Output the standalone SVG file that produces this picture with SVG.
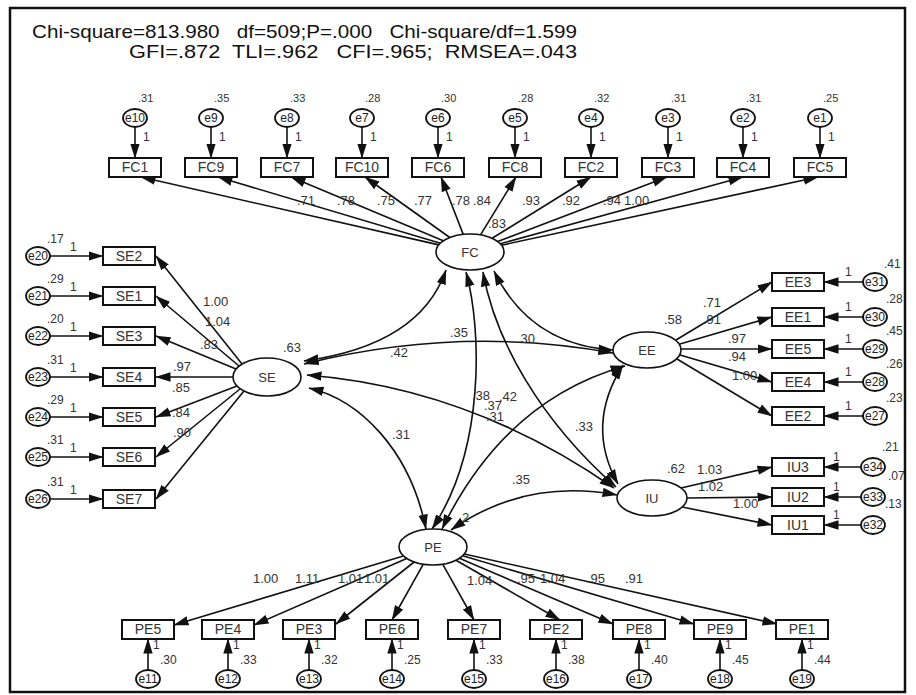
<svg xmlns="http://www.w3.org/2000/svg" width="916" height="695" viewBox="0 0 916 695">
<defs>
<style>
text{font-family:"Liberation Sans",Arial,sans-serif}
.title{font-size:19px;fill:#111}
.lb{font-size:14px;fill:#333;text-anchor:middle}
.lt{font-size:13px;fill:#333;text-anchor:middle}
.num{font-size:13px;fill:#333}
.one{font-size:12px;fill:#333}
.var{font-size:11px;fill:#333}
.et{font-size:12px;fill:#222;text-anchor:middle}
.box{fill:#fff;stroke:#111;stroke-width:2}
.lat{fill:#fff;stroke:#111;stroke-width:1.6}
.err{fill:#fff;stroke:#111;stroke-width:1.8}
.ln{fill:none;stroke:#111;stroke-width:1.6;marker-end:url(#a)}
.cv{fill:none;stroke:#111;stroke-width:1.6;marker-start:url(#a);marker-end:url(#a)}
</style>
<marker id="a" viewBox="0 0 15 10" refX="14.5" refY="5" markerWidth="15" markerHeight="10" markerUnits="userSpaceOnUse" orient="auto-start-reverse"><path d="M0,0.3 L15,5 L0,9.7 Z" fill="#111"/></marker>
</defs>
<rect x="0" y="0" width="916" height="695" fill="#fff"/>
<rect x="10" y="8" width="895" height="684" fill="none" stroke="#111" stroke-width="2.5"/>
<text class="title" x="32" y="38" textLength="545" lengthAdjust="spacingAndGlyphs" style="white-space:pre">Chi-square=813.980   df=509;P=.000   Chi-square/df=1.599</text>
<text class="title" x="129" y="58" textLength="448" lengthAdjust="spacingAndGlyphs" style="white-space:pre">GFI=.872  TLI=.962   CFI=.965;  RMSEA=.043</text>

<g id="connectors">
<path class="ln" d="M135,127 V158"/><path class="ln" d="M211,127 V158"/><path class="ln" d="M287,127 V158"/><path class="ln" d="M362,127 V158"/><path class="ln" d="M438,127 V158"/><path class="ln" d="M515,127 V158"/><path class="ln" d="M591,127 V158"/><path class="ln" d="M668,127 V158"/><path class="ln" d="M743,127 V158"/><path class="ln" d="M820,127 V158"/>
<path class="ln" d="M438.8,244.9 L141,177"/><path class="ln" d="M440.4,243.2 L218,177"/><path class="ln" d="M443.3,240.8 L291,177"/><path class="ln" d="M449.8,237.5 L365,177"/><path class="ln" d="M463.2,234.4 L441,177"/><path class="ln" d="M480.5,234.9 L516,177"/><path class="ln" d="M492.1,238.3 L591,177"/><path class="ln" d="M497.6,241.5 L667,177"/><path class="ln" d="M500.2,243.7 L743,177"/><path class="ln" d="M501.5,245.2 L818,177"/>
<path class="ln" d="M50,256 H103"/><path class="ln" d="M50,296 H103"/><path class="ln" d="M50,336 H103"/><path class="ln" d="M50,377 H103"/><path class="ln" d="M50,417 H103"/><path class="ln" d="M50,457 H103"/><path class="ln" d="M50,499 H103"/>
<path class="ln" d="M242,364 L156,256"/><path class="ln" d="M239,366 L156,296"/><path class="ln" d="M236,369 L156,336"/><path class="ln" d="M233,377 L156,377"/><path class="ln" d="M237,386 L156,417"/><path class="ln" d="M240,389 L156,457"/><path class="ln" d="M244,391 L156,499"/>
<path class="ln" d="M863,282 H824"/><path class="ln" d="M863,317 H824"/><path class="ln" d="M863,349 H824"/><path class="ln" d="M863,382 H824"/><path class="ln" d="M863,416 H824"/>
<path class="ln" d="M676,340 L772,282"/><path class="ln" d="M680,344 L772,317"/><path class="ln" d="M681,349 L772,349"/><path class="ln" d="M680,355 L772,382"/><path class="ln" d="M677,359 L772,416"/>
<path class="ln" d="M861,467 H824"/><path class="ln" d="M861,497 H824"/><path class="ln" d="M861,525 H824"/>
<path class="ln" d="M681,488 L772,467"/><path class="ln" d="M687,498 L772,497"/><path class="ln" d="M682,507 L772,525"/>
<path class="ln" d="M403.4,555.9 L174,625"/><path class="ln" d="M406.7,558.4 L254,625"/><path class="ln" d="M414.1,562 L336,624"/><path class="ln" d="M423.3,564.2 L392,620"/><path class="ln" d="M442.7,564.2 L474,620"/><path class="ln" d="M456,560.2 L560,620"/><path class="ln" d="M459.4,558.3 L613,624"/><path class="ln" d="M462.7,555.8 L694,624"/><path class="ln" d="M464.3,554 L777,624"/>
<path class="ln" d="M148,670 V639"/><path class="ln" d="M228,670 V639"/><path class="ln" d="M309,670 V639"/><path class="ln" d="M392,670 V639"/><path class="ln" d="M474,670 V639"/><path class="ln" d="M556,670 V639"/><path class="ln" d="M639,670 V639"/><path class="ln" d="M720,670 V639"/><path class="ln" d="M802,670 V639"/>
<path class="cv" d="M446,270 Q420,345 304,361"/>
<path class="cv" d="M466,272 C482,330 485,450 432,529"/>
<path class="cv" d="M483,272 C495,340 540,420 616,487"/>
<path class="cv" d="M494,271 Q530,345 613,350"/>
<path class="cv" d="M304,364 Q460,325 613,353"/>
<path class="cv" d="M307,375 Q470,388 614,488"/>
<path class="cv" d="M309,388 C360,400 410,450 426,529"/>
<path class="cv" d="M623,365 Q585,425 618,484"/>
<path class="cv" d="M442,529 Q505,400 625,366"/>
<path class="cv" d="M617,495 Q525,478 451,530"/>
<g class="num">
<text x="297" y="205">.71</text><text x="337" y="205">.78</text><text x="377" y="205">.75</text><text x="414" y="205">.77</text><text x="452" y="205">.78</text><text x="473" y="205">.84</text><text x="522" y="205">.93</text><text x="562" y="205">.92</text><text x="603" y="205">.94</text><text x="624" y="205">1.00</text>
<text x="488" y="228">.83</text>
<text x="203" y="306">1.00</text><text x="205" y="326">1.04</text><text x="200" y="349">.83</text><text x="173" y="371">.97</text><text x="172" y="392">.85</text><text x="172" y="417">.84</text><text x="173" y="437">.90</text>
<text x="283" y="352">.63</text>
<text x="450" y="337">.35</text><text x="517" y="343">.30</text><text x="390" y="357">.42</text>
<text x="472" y="400">.38</text><text x="499" y="401">.42</text><text x="484" y="410">.37</text><text x="486" y="421">.31</text>
<text x="392" y="439">.31</text><text x="575" y="431">.33</text><text x="512" y="484">.35</text>
<text x="664" y="324">.58</text>
<text x="703" y="307">.71</text><text x="703" y="324">.91</text><text x="728" y="343">.97</text><text x="728" y="361">.94</text><text x="732" y="380">1.00</text>
<text x="667" y="473">.62</text><text x="697" y="474">1.03</text><text x="698" y="491">1.02</text><text x="733" y="508">1.00</text>
<text x="462" y="522">2</text>
<text x="253" y="583">1.00</text><text x="295" y="583">1.11</text><text x="338" y="583">1.01</text><text x="364" y="583">1.01</text><text x="467" y="585">1.04</text><text x="517" y="583">.95</text><text x="540" y="583">1.04</text><text x="587" y="583">.95</text><text x="625" y="583">.91</text>
</g>
<g class="one">
<text x="143" y="141">1</text><text x="219" y="141">1</text><text x="295" y="141">1</text><text x="370" y="141">1</text><text x="446" y="141">1</text><text x="523" y="141">1</text><text x="599" y="141">1</text><text x="676" y="141">1</text><text x="751" y="141">1</text><text x="828" y="141">1</text>
<text x="70" y="251">1</text><text x="70" y="291">1</text><text x="70" y="331">1</text><text x="70" y="372">1</text><text x="70" y="412">1</text><text x="70" y="452">1</text><text x="70" y="494">1</text>
<text x="845" y="276">1</text><text x="845" y="311">1</text><text x="845" y="343">1</text><text x="845" y="376">1</text><text x="845" y="410">1</text>
<text x="833" y="461">1</text><text x="833" y="491">1</text><text x="833" y="519">1</text>
<text x="153" y="649">1</text><text x="233" y="649">1</text><text x="314" y="649">1</text><text x="397" y="649">1</text><text x="479" y="649">1</text><text x="561" y="649">1</text><text x="644" y="649">1</text><text x="725" y="649">1</text><text x="807" y="649">1</text>
</g>
<g class="var">
<text x="138" y="102">.31</text><text x="214" y="102">.35</text><text x="290" y="102">.33</text><text x="365" y="102">.28</text><text x="441" y="102">.30</text><text x="518" y="102">.28</text><text x="594" y="102">.32</text><text x="671" y="102">.31</text><text x="746" y="102">.31</text><text x="823" y="102">.25</text>
</g>
<g class="one">
<text x="47" y="243">.17</text><text x="47" y="283">.29</text><text x="47" y="323">.20</text><text x="47" y="364">.31</text><text x="47" y="404">.29</text><text x="47" y="444">.31</text><text x="47" y="486">.31</text>
<text x="884" y="268">.41</text><text x="886" y="303">.28</text><text x="886" y="335">.45</text><text x="886" y="368">.26</text><text x="886" y="402">.23</text>
<text x="882" y="451">.21</text><text x="888" y="480">.07</text><text x="885" y="508">.13</text>
<text x="160" y="664">.30</text><text x="240" y="664">.33</text><text x="321" y="664">.32</text><text x="404" y="664">.25</text><text x="486" y="664">.33</text><text x="568" y="664">.38</text><text x="651" y="664">.40</text><text x="732" y="664">.45</text><text x="814" y="664">.44</text>
</g>
</g>

<g id="FC"><ellipse class="lat" cx="470" cy="252" rx="34" ry="18"/><text class="lt" x="470" y="257">FC</text></g>
<g id="SE"><ellipse class="lat" cx="267" cy="377" rx="34" ry="19"/><text class="lt" x="267" y="382">SE</text></g>
<g id="EE"><ellipse class="lat" cx="647" cy="350" rx="34" ry="18"/><text class="lt" x="647" y="355">EE</text></g>
<g id="IU"><ellipse class="lat" cx="652" cy="498" rx="35" ry="18"/><text class="lt" x="652" y="503">IU</text></g>
<g id="PE"><ellipse class="lat" cx="433" cy="547" rx="34" ry="18"/><text class="lt" x="433" y="552">PE</text></g>

<g id="FC1"><rect class="box" x="109" y="158" width="52" height="19"/><text class="lb" x="135" y="172">FC1</text></g>
<g id="FC9"><rect class="box" x="185" y="158" width="52" height="19"/><text class="lb" x="211" y="172">FC9</text></g>
<g id="FC7"><rect class="box" x="261" y="158" width="52" height="19"/><text class="lb" x="287" y="172">FC7</text></g>
<g id="FC10"><rect class="box" x="336" y="158" width="52" height="19"/><text class="lb" x="362" y="172">FC10</text></g>
<g id="FC6"><rect class="box" x="412" y="158" width="52" height="19"/><text class="lb" x="438" y="172">FC6</text></g>
<g id="FC8"><rect class="box" x="489" y="158" width="52" height="19"/><text class="lb" x="515" y="172">FC8</text></g>
<g id="FC2"><rect class="box" x="565" y="158" width="52" height="19"/><text class="lb" x="591" y="172">FC2</text></g>
<g id="FC3"><rect class="box" x="642" y="158" width="52" height="19"/><text class="lb" x="668" y="172">FC3</text></g>
<g id="FC4"><rect class="box" x="717" y="158" width="52" height="19"/><text class="lb" x="743" y="172">FC4</text></g>
<g id="FC5"><rect class="box" x="794" y="158" width="52" height="19"/><text class="lb" x="820" y="172">FC5</text></g>
<g id="e10"><ellipse class="err" cx="135" cy="118" rx="12" ry="9"/><text class="et" x="135" y="122">e10</text></g>
<g id="e9"><ellipse class="err" cx="211" cy="118" rx="12" ry="9"/><text class="et" x="211" y="122">e9</text></g>
<g id="e8"><ellipse class="err" cx="287" cy="118" rx="12" ry="9"/><text class="et" x="287" y="122">e8</text></g>
<g id="e7"><ellipse class="err" cx="362" cy="118" rx="12" ry="9"/><text class="et" x="362" y="122">e7</text></g>
<g id="e6"><ellipse class="err" cx="438" cy="118" rx="12" ry="9"/><text class="et" x="438" y="122">e6</text></g>
<g id="e5"><ellipse class="err" cx="515" cy="118" rx="12" ry="9"/><text class="et" x="515" y="122">e5</text></g>
<g id="e4"><ellipse class="err" cx="591" cy="118" rx="12" ry="9"/><text class="et" x="591" y="122">e4</text></g>
<g id="e3"><ellipse class="err" cx="668" cy="118" rx="12" ry="9"/><text class="et" x="668" y="122">e3</text></g>
<g id="e2"><ellipse class="err" cx="743" cy="118" rx="12" ry="9"/><text class="et" x="743" y="122">e2</text></g>
<g id="e1"><ellipse class="err" cx="820" cy="118" rx="12" ry="9"/><text class="et" x="820" y="122">e1</text></g>

<g id="SE2"><rect class="box" x="103" y="247" width="52" height="18"/><text class="lb" x="129" y="261">SE2</text></g>
<g id="SE1"><rect class="box" x="103" y="287" width="52" height="18"/><text class="lb" x="129" y="301">SE1</text></g>
<g id="SE3"><rect class="box" x="103" y="327" width="52" height="18"/><text class="lb" x="129" y="341">SE3</text></g>
<g id="SE4"><rect class="box" x="103" y="368" width="52" height="18"/><text class="lb" x="129" y="382">SE4</text></g>
<g id="SE5"><rect class="box" x="103" y="408" width="52" height="18"/><text class="lb" x="129" y="422">SE5</text></g>
<g id="SE6"><rect class="box" x="103" y="448" width="52" height="18"/><text class="lb" x="129" y="462">SE6</text></g>
<g id="SE7"><rect class="box" x="103" y="490" width="52" height="18"/><text class="lb" x="129" y="504">SE7</text></g>
<g id="e20"><ellipse class="err" cx="38" cy="256" rx="12" ry="9"/><text class="et" x="38" y="260">e20</text></g>
<g id="e21"><ellipse class="err" cx="38" cy="296" rx="12" ry="9"/><text class="et" x="38" y="300">e21</text></g>
<g id="e22"><ellipse class="err" cx="38" cy="336" rx="12" ry="9"/><text class="et" x="38" y="340">e22</text></g>
<g id="e23"><ellipse class="err" cx="38" cy="377" rx="12" ry="9"/><text class="et" x="38" y="381">e23</text></g>
<g id="e24"><ellipse class="err" cx="38" cy="417" rx="12" ry="9"/><text class="et" x="38" y="421">e24</text></g>
<g id="e25"><ellipse class="err" cx="38" cy="457" rx="12" ry="9"/><text class="et" x="38" y="461">e25</text></g>
<g id="e26"><ellipse class="err" cx="38" cy="499" rx="12" ry="9"/><text class="et" x="38" y="503">e26</text></g>

<g id="EE3"><rect class="box" x="772" y="273" width="52" height="18"/><text class="lb" x="798" y="287">EE3</text></g>
<g id="EE1"><rect class="box" x="772" y="308" width="52" height="18"/><text class="lb" x="798" y="322">EE1</text></g>
<g id="EE5"><rect class="box" x="772" y="340" width="52" height="18"/><text class="lb" x="798" y="354">EE5</text></g>
<g id="EE4"><rect class="box" x="772" y="373" width="52" height="18"/><text class="lb" x="798" y="387">EE4</text></g>
<g id="EE2"><rect class="box" x="772" y="407" width="52" height="18"/><text class="lb" x="798" y="421">EE2</text></g>
<g id="e31"><ellipse class="err" cx="875" cy="282" rx="12" ry="9"/><text class="et" x="875" y="286">e31</text></g>
<g id="e30"><ellipse class="err" cx="875" cy="317" rx="12" ry="9"/><text class="et" x="875" y="321">e30</text></g>
<g id="e29"><ellipse class="err" cx="875" cy="349" rx="12" ry="9"/><text class="et" x="875" y="353">e29</text></g>
<g id="e28"><ellipse class="err" cx="875" cy="382" rx="12" ry="9"/><text class="et" x="875" y="386">e28</text></g>
<g id="e27"><ellipse class="err" cx="875" cy="416" rx="12" ry="9"/><text class="et" x="875" y="420">e27</text></g>

<g id="IU3"><rect class="box" x="772" y="458" width="52" height="18"/><text class="lb" x="798" y="472">IU3</text></g>
<g id="IU2"><rect class="box" x="772" y="488" width="52" height="18"/><text class="lb" x="798" y="502">IU2</text></g>
<g id="IU1"><rect class="box" x="772" y="516" width="52" height="18"/><text class="lb" x="798" y="530">IU1</text></g>
<g id="e34"><ellipse class="err" cx="873" cy="467" rx="12" ry="9"/><text class="et" x="873" y="471">e34</text></g>
<g id="e33"><ellipse class="err" cx="873" cy="497" rx="12" ry="9"/><text class="et" x="873" y="501">e33</text></g>
<g id="e32"><ellipse class="err" cx="873" cy="525" rx="12" ry="9"/><text class="et" x="873" y="529">e32</text></g>

<g id="PE5"><rect class="box" x="122" y="620" width="52" height="19"/><text class="lb" x="148" y="634">PE5</text></g>
<g id="PE4"><rect class="box" x="202" y="620" width="52" height="19"/><text class="lb" x="228" y="634">PE4</text></g>
<g id="PE3"><rect class="box" x="283" y="620" width="52" height="19"/><text class="lb" x="309" y="634">PE3</text></g>
<g id="PE6"><rect class="box" x="366" y="620" width="52" height="19"/><text class="lb" x="392" y="634">PE6</text></g>
<g id="PE7"><rect class="box" x="448" y="620" width="52" height="19"/><text class="lb" x="474" y="634">PE7</text></g>
<g id="PE2"><rect class="box" x="530" y="620" width="52" height="19"/><text class="lb" x="556" y="634">PE2</text></g>
<g id="PE8"><rect class="box" x="613" y="620" width="52" height="19"/><text class="lb" x="639" y="634">PE8</text></g>
<g id="PE9"><rect class="box" x="694" y="620" width="52" height="19"/><text class="lb" x="720" y="634">PE9</text></g>
<g id="PE1"><rect class="box" x="776" y="620" width="52" height="19"/><text class="lb" x="802" y="634">PE1</text></g>
<g id="e11"><ellipse class="err" cx="148" cy="679" rx="12" ry="9"/><text class="et" x="148" y="683">e11</text></g>
<g id="e12"><ellipse class="err" cx="228" cy="679" rx="12" ry="9"/><text class="et" x="228" y="683">e12</text></g>
<g id="e13"><ellipse class="err" cx="309" cy="679" rx="12" ry="9"/><text class="et" x="309" y="683">e13</text></g>
<g id="e14"><ellipse class="err" cx="392" cy="679" rx="12" ry="9"/><text class="et" x="392" y="683">e14</text></g>
<g id="e15"><ellipse class="err" cx="474" cy="679" rx="12" ry="9"/><text class="et" x="474" y="683">e15</text></g>
<g id="e16"><ellipse class="err" cx="556" cy="679" rx="12" ry="9"/><text class="et" x="556" y="683">e16</text></g>
<g id="e17"><ellipse class="err" cx="639" cy="679" rx="12" ry="9"/><text class="et" x="639" y="683">e17</text></g>
<g id="e18"><ellipse class="err" cx="720" cy="679" rx="12" ry="9"/><text class="et" x="720" y="683">e18</text></g>
<g id="e19"><ellipse class="err" cx="802" cy="679" rx="12" ry="9"/><text class="et" x="802" y="683">e19</text></g>
</svg>
